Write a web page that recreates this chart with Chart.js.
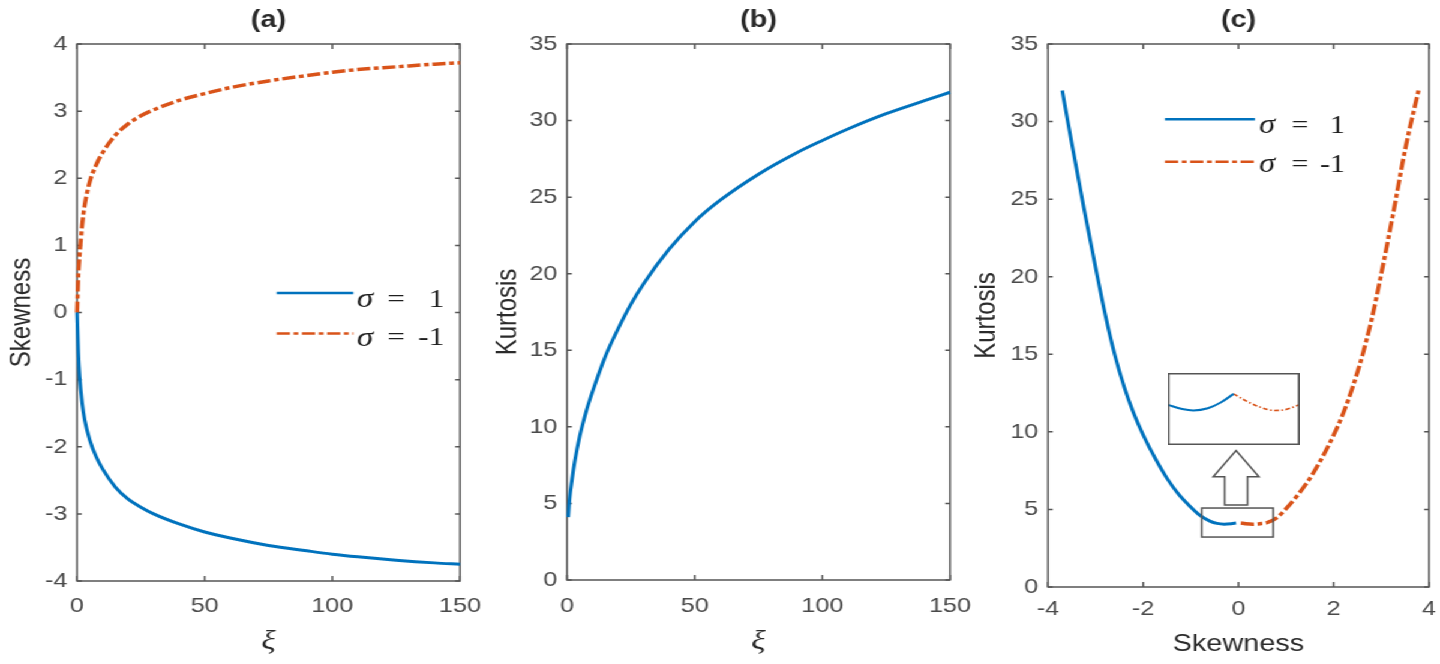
<!DOCTYPE html>
<html><head><meta charset="utf-8">
<script src="https://cdn.jsdelivr.net/npm/chart.js@4.4.1/dist/chart.umd.min.js"></script>
<style>
html,body{margin:0;padding:0;background:#fff;overflow:hidden;width:1440px;height:664px}
#wrap{position:absolute;left:0;top:0;width:1200px;height:664px;transform:scaleX(1.2);transform-origin:0 0}
canvas{position:absolute;top:0}
</style></head><body>
<div id="wrap">
<canvas id="ca" width="420" height="664" style="left:0px"></canvas>
<canvas id="cb" width="420" height="664" style="left:400px"></canvas>
<canvas id="cc" width="400" height="664" style="left:800px"></canvas>
<canvas id="ci" width="110" height="72"></canvas>
</div>
<script>
// ---------------- data ----------------
const xi       = [0, 0.5, 1, 2, 3, 5, 7.5, 10, 15, 20, 25, 30, 40, 50, 60, 75, 90, 100, 110, 125, 140, 150];
const skewPos  = [0, -0.6, -0.95, -1.35, -1.6, -1.9, -2.15, -2.33, -2.6, -2.78, -2.9, -3.0, -3.15, -3.27, -3.36, -3.47, -3.55, -3.6, -3.64, -3.69, -3.73, -3.75]; // sigma = 1
const skewNeg  = [0, 0.55, 0.85, 1.3, 1.6, 1.95, 2.2, 2.38, 2.64, 2.81, 2.93, 3.02, 3.16, 3.26, 3.35, 3.45, 3.53, 3.58, 3.62, 3.66, 3.70, 3.72];   // sigma = -1
const kurtB    = [null, 4.1, 5.3, 6.6, 7.7, 9.4, 11.0, 12.3, 14.6, 16.4, 18.0, 19.35, 21.6, 23.4, 24.8, 26.5, 27.9, 28.7, 29.45, 30.45, 31.3, 31.85];

const skewC1 = [-3.70, -3.5, -3.25, -3.0, -2.8, -2.6, -2.4, -2.2, -2.0, -1.75, -1.5, -1.25, -1.0, -0.8, -0.6, -0.45, -0.3, -0.15, -0.05];
const kurtC1 = [32.0, 28.6, 24.5, 20.6, 17.6, 15.0, 12.9, 11.2, 9.8, 8.3, 7.0, 5.95, 5.15, 4.6, 4.25, 4.1, 4.05, 4.08, 4.12];
const skewC2 = [0.05, 0.15, 0.3, 0.45, 0.6, 0.8, 1.0, 1.25, 1.5, 1.75, 2.0, 2.2, 2.4, 2.6, 2.8, 3.0, 3.25, 3.5, 3.78];
const kurtC2 = [4.12, 4.08, 4.05, 4.08, 4.15, 4.45, 5.05, 5.95, 7.0, 8.3, 9.8, 11.2, 12.9, 14.9, 17.3, 20.2, 24.1, 28.2, 32.0];

const insetX1 = [-0.77, -0.6, -0.47, -0.3, -0.15, 0];
const insetY1 = [4.136, 4.10, 4.088, 4.106, 4.154, 4.226];
const insetX2 = [0, 0.15, 0.3, 0.47, 0.6, 0.77];
const insetY2 = [4.226, 4.166, 4.118, 4.088, 4.094, 4.136];

const sigmaValues = [1, -1];
const panelTitles = ['(a)', '(b)', '(c)'];
const ticksXi     = [0, 50, 100, 150];
const ticksSkewY  = [-4, -3, -2, -1, 0, 1, 2, 3, 4];
const ticksKurt   = [0, 5, 10, 15, 20, 25, 30, 35];
const ticksSkewX  = [-4, -2, 0, 2, 4];

// ---------------- styles ----------------
const BLUE = '#0072BD', ORANGE = '#D95319';
const ORANGE_DASH = [11, 3, 4, 3];
const SANS = '"Liberation Sans", Arial, sans-serif';
const SERIF = '"Liberation Serif", "Times New Roman", serif';
const TICK_COLOR = '#4a4a4a', LABEL_COLOR = '#2a2a2a', AXIS_COLOR = '#555';

const pts = (xs, ys) => xs.map((v, i) => ({x: v, y: ys[i]}));

const boxPlugin = {
  id: 'matlabBox',
  beforeDatasetsDraw(chart) {
    const {ctx, chartArea: a, scales: {x, y}} = chart;
    ctx.save();
    ctx.strokeStyle = AXIS_COLOR; ctx.lineWidth = 1.5;
    ctx.strokeRect(a.left, a.top, a.right - a.left, a.bottom - a.top);
    ctx.beginPath();
    x.ticks.forEach(t => { const p = x.getPixelForValue(t.value);
      ctx.moveTo(p, a.bottom); ctx.lineTo(p, a.bottom - 5);
      ctx.moveTo(p, a.top); ctx.lineTo(p, a.top + 5); });
    y.ticks.forEach(t => { const p = y.getPixelForValue(t.value);
      ctx.moveTo(a.left, p); ctx.lineTo(a.left + 4, p);
      ctx.moveTo(a.right, p); ctx.lineTo(a.right - 4, p); });
    ctx.stroke();
    ctx.restore();
  }
};

function makeLegend(cfg) {
  return {
    id: 'sigmaLegend',
    afterDatasetsDraw(chart) {
      const {ctx, chartArea: a} = chart;
      chart.data.datasets.forEach((ds, i) => {
        const r = cfg.rows[i];
        ctx.save();
        ctx.strokeStyle = ds.borderColor; ctx.lineWidth = 2.5;
        ctx.setLineDash(ds.borderDash || []);
        ctx.beginPath();
        ctx.moveTo(a.left + cfg.line[0], a.top + r.line);
        ctx.lineTo(a.left + cfg.line[1], a.top + r.line);
        ctx.stroke();
        ctx.setLineDash([]);
        ctx.fillStyle = '#1e1e1e'; ctx.textBaseline = 'middle';
        ctx.font = 'italic ' + (cfg.size + 2) + 'px ' + SERIF; ctx.textAlign = 'left';
        ctx.fillText('σ', a.left + cfg.sigma, a.top + r.text);
        ctx.font = cfg.size + 'px ' + SERIF; ctx.textAlign = 'center';
        ctx.fillText('=', a.left + cfg.eq, a.top + r.text);
        ctx.textAlign = 'right';
        ctx.fillText(String(sigmaValues[i]), a.left + cfg.num, a.top + r.text);
        ctx.restore();
      });
    }
  };
}

// zoom marker (small box + hollow arrow) in panel (c), data coordinates
const zoomRect = {x0: -0.77, x1: 0.73, y0: 3.22, y1: 5.09};
const arrow = {cx: -0.05, tip: 8.79, headBase: 7.11, bottom: 5.29, headHalf: 0.48, shaftHalf: 0.24};
const insetBox = {x0: -1.48, x1: 1.29, y0: 9.16, y1: 13.8};
const zoomMarkPlugin = {
  id: 'zoomMark',
  afterDatasetsDraw(chart) {
    const {ctx, scales: {x, y}} = chart;
    const X = v => x.getPixelForValue(v), Y = v => y.getPixelForValue(v);
    ctx.save();
    ctx.strokeStyle = AXIS_COLOR; ctx.lineWidth = 1.5;
    ctx.strokeRect(X(zoomRect.x0), Y(zoomRect.y1), X(zoomRect.x1) - X(zoomRect.x0), Y(zoomRect.y0) - Y(zoomRect.y1));
    ctx.beginPath();
    ctx.moveTo(X(arrow.cx - arrow.shaftHalf), Y(arrow.bottom));
    ctx.lineTo(X(arrow.cx - arrow.shaftHalf), Y(arrow.headBase));
    ctx.lineTo(X(arrow.cx - arrow.headHalf), Y(arrow.headBase));
    ctx.lineTo(X(arrow.cx), Y(arrow.tip));
    ctx.lineTo(X(arrow.cx + arrow.headHalf), Y(arrow.headBase));
    ctx.lineTo(X(arrow.cx + arrow.shaftHalf), Y(arrow.headBase));
    ctx.lineTo(X(arrow.cx + arrow.shaftHalf), Y(arrow.bottom));
    ctx.closePath();
    ctx.fillStyle = '#fff'; ctx.fill(); ctx.stroke();
    ctx.restore();
  }
};

function makeChart(id, o) {
  return new Chart(document.getElementById(id), {
    type: 'line',
    data: {datasets: o.datasets},
    options: {
      responsive: false, animation: false, events: [],
      layout: {padding: {left: 0, right: o.padRight, top: 0, bottom: 0}},
      elements: {point: {radius: 0}},
      plugins: {
        legend: {display: false}, tooltip: {enabled: false},
        title: {display: true, text: o.title, fullSize: false, color: '#2a2a2a',
          font: {family: SANS, size: 24, weight: 'bold', lineHeight: 1.2},
          padding: {top: 5.6, bottom: 9.6}}
      },
      scales: {
        x: {
          type: 'linear', min: o.xMin, max: o.xMax,
          afterBuildTicks: s => { s.ticks = o.xTicks.map(v => ({value: v})); },
          afterFit: s => { s.height = o.xAxisH; s.paddingLeft = 0; s.paddingRight = 0; },
          grid: {display: false, drawTicks: false}, border: {display: false},
          ticks: {padding: o.xTickPad, color: TICK_COLOR, font: {family: SANS, size: 21}, maxRotation: 0, autoSkip: false, callback: v => String(v)},
          title: {display: true, text: o.xTitle, color: LABEL_COLOR, font: o.xTitleFont, padding: {top: 0, bottom: o.xTitlePad}}
        },
        y: {
          type: 'linear', min: o.yMin, max: o.yMax,
          afterBuildTicks: s => { s.ticks = o.yTicks.map(v => ({value: v})); },
          afterFit: s => { s.width = o.yAxisW; s.paddingTop = 0; s.paddingBottom = 0; },
          grid: {display: false, drawTicks: false}, border: {display: false},
          ticks: {padding: 8, color: TICK_COLOR, font: {family: SANS, size: 21}, autoSkip: false, callback: v => String(v)},
          title: {display: true, text: o.yTitle, color: LABEL_COLOR, font: {family: SANS, size: 24, lineHeight: 1.2}, padding: {top: o.yTitlePad, bottom: 0}}
        }
      }
    },
    plugins: [boxPlugin].concat(o.extra || [])
  });
}

const xiFont = {family: SERIF, style: 'italic', size: 28, lineHeight: 1.2};

const chartA = makeChart('ca', {
  title: panelTitles[0], padRight: 36.7, yAxisW: 64.2, xAxisH: 83, xTickPad: 13, xTitlePad: 5.2, yTitlePad: 4.3,
  xMin: 0, xMax: 150, yMin: -4, yMax: 4, xTicks: ticksXi, yTicks: ticksSkewY,
  xTitle: 'ξ', xTitleFont: xiFont, yTitle: 'Skewness',
  datasets: [
    {label: 'σ = 1', data: pts(xi, skewPos), borderColor: BLUE, borderWidth: 3, cubicInterpolationMode: 'monotone', clip: 4},
    {label: 'σ = -1', data: pts(xi, skewNeg), borderColor: ORANGE, borderWidth: 3.5, borderDash: ORANGE_DASH, cubicInterpolationMode: 'monotone', clip: 4}
  ],
  extra: [makeLegend({line: [166.4, 230.2], sigma: 233, eq: 266, num: 306, size: 26,
    rows: [{line: 249, text: 256}, {line: 289.5, text: 294.5}]})]
});

const chartB = makeChart('cb', {
  title: panelTitles[1], padRight: 28.3, yAxisW: 72.5, xAxisH: 84, xTickPad: 14, xTitlePad: 5.2, yTitlePad: 8.5,
  xMin: 0, xMax: 150, yMin: 0, yMax: 35, xTicks: ticksXi, yTicks: ticksKurt,
  xTitle: 'ξ', xTitleFont: xiFont, yTitle: 'Kurtosis',
  datasets: [
    {label: 'Kurtosis', data: pts(xi, kurtB), borderColor: BLUE, borderWidth: 3, cubicInterpolationMode: 'monotone', clip: 4}
  ]
});

const chartC = makeChart('cc', {
  title: panelTitles[2], padRight: 9.2, yAxisW: 73.3, xAxisH: 77, xTickPad: 10, xTitlePad: 5.6, yTitlePad: 8.1,
  xMin: -4, xMax: 4, yMin: 0, yMax: 35, xTicks: ticksSkewX, yTicks: ticksKurt,
  xTitle: 'Skewness', xTitleFont: {family: SANS, size: 24, lineHeight: 1.2}, yTitle: 'Kurtosis',
  datasets: [
    {label: 'σ = 1', data: pts(skewC1, kurtC1), borderColor: BLUE, borderWidth: 3, cubicInterpolationMode: 'monotone', clip: 4},
    {label: 'σ = -1', data: pts(skewC2, kurtC2), borderColor: ORANGE, borderWidth: 3.5, borderDash: ORANGE_DASH, cubicInterpolationMode: 'monotone', clip: 4}
  ],
  extra: [zoomMarkPlugin, makeLegend({line: [97.5, 172.5], sigma: 176, eq: 210, num: 247.5, size: 25,
    rows: [{line: 75.3, text: 82}, {line: 117.7, text: 121}]})]
});

// inset (magnified view) positioned from panel (c) scales
(function () {
  const sx = chartC.scales.x, sy = chartC.scales.y;
  const L = sx.getPixelForValue(insetBox.x0), R = sx.getPixelForValue(insetBox.x1);
  const T = sy.getPixelForValue(insetBox.y1), B = sy.getPixelForValue(insetBox.y0);
  const ci = document.getElementById('ci');
  ci.width = Math.round(R - L); ci.height = Math.round(B - T);
  ci.style.left = (800 + L) + 'px'; ci.style.top = T + 'px';
  new Chart(ci, {
    type: 'line',
    data: {datasets: [
      {data: pts(insetX1, insetY1), borderColor: BLUE, borderWidth: 2, cubicInterpolationMode: 'monotone'},
      {data: pts(insetX2, insetY2), borderColor: ORANGE, borderWidth: 1.6, borderDash: [4, 2, 1.5, 2], cubicInterpolationMode: 'monotone'}
    ]},
    options: {
      responsive: false, animation: false, events: [],
      layout: {padding: 0}, elements: {point: {radius: 0}},
      plugins: {legend: {display: false}, tooltip: {enabled: false}},
      scales: {x: {type: 'linear', min: -0.77, max: 0.77, display: false}, y: {type: 'linear', min: 3.8, max: 4.4, display: false}}
    },
    plugins: [{
      id: 'insetFrame',
      beforeDraw(c) { const g = c.ctx; g.save(); g.fillStyle = '#fff'; g.fillRect(0, 0, c.width, c.height); g.restore(); },
      afterDraw(c) { const g = c.ctx; g.save(); g.strokeStyle = AXIS_COLOR; g.lineWidth = 1.5; g.strokeRect(0.75, 0.75, c.width - 1.5, c.height - 1.5); g.restore(); }
    }]
  });
})();
</script>
</body></html>
